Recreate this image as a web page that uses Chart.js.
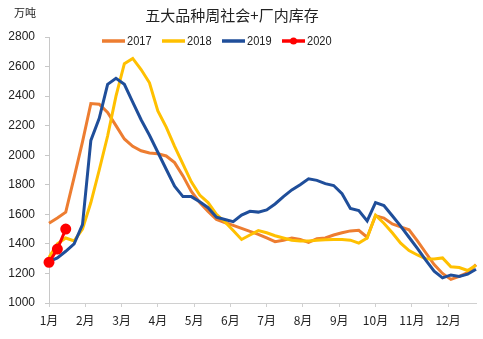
<!DOCTYPE html>
<html>
<head>
<meta charset="utf-8">
<script src="https://cdn.jsdelivr.net/npm/chart.js@4/dist/chart.umd.min.js"></script>
<style>
  html, body { margin: 0; padding: 0; background: #fff; }
  #wrap { width: 483px; height: 339px; }
</style>
</head>
<body>
<div id="wrap"><canvas id="grafico" width="483" height="339"></canvas></div>
<script>
const titulo = "五大品种周社会+厂内库存";
const unidade = "万吨";
const meses = ["1月", "2月", "3月", "4月", "5月", "6月", "7月", "8月", "9月", "10月", "11月", "12月"];
const anos = ["2017", "2018", "2019", "2020"];
const cores = ["#ED7D31", "#FFC000", "#1F4E9A", "#FF0000"];

// valores semanais (52 semanas)
const s2017 = [1540, 1575, 1615, 1850, 2090, 2350, 2345, 2290, 2200, 2110, 2060, 2030, 2015, 2010, 1995, 1950, 1860, 1755, 1680, 1620, 1565, 1545, 1525, 1505, 1485, 1465, 1440, 1415, 1425, 1440, 1430, 1410, 1435, 1440, 1460, 1475, 1488, 1492, 1445, 1590, 1575, 1535, 1515, 1495, 1420, 1340, 1260, 1200, 1160, 1180, 1205, 1260];
const s2018 = [1310, 1400, 1440, 1420, 1500, 1680, 1900, 2130, 2400, 2620, 2655, 2580, 2490, 2300, 2190, 2060, 1940, 1820, 1730, 1680, 1600, 1550, 1490, 1430, 1460, 1490, 1475, 1455, 1440, 1425, 1420, 1420, 1425, 1428, 1430, 1430, 1425, 1405, 1440, 1595, 1540, 1475, 1405, 1355, 1325, 1300, 1298, 1305, 1245, 1240, 1220, 1255];
const s2019 = [1280, 1305, 1350, 1400, 1530, 2100, 2250, 2480, 2520, 2480, 2360, 2240, 2135, 2020, 1905, 1790, 1720, 1720, 1685, 1645, 1580, 1565, 1550, 1595, 1620, 1615, 1630, 1670, 1720, 1765, 1800, 1840, 1830, 1808, 1795, 1740, 1640, 1625, 1555, 1680, 1660, 1590, 1520, 1445, 1370, 1290, 1215, 1170, 1190, 1180, 1195, 1228];
const s2020 = [1275, 1365, 1500];

const yMin = 1000, yMax = 2800, yPasso = 200;
const semanasPorMes = 52 / 12;

const series = [s2017, s2018, s2019, s2020];
const pontos = arr => arr.map((v, i) => ({ x: i, y: v }));

const fonteNum = "'Liberation Sans', Arial, sans-serif";
const fonteCJK = "'Noto Sans CJK SC', sans-serif";

// titulo, unidade e legenda desenhados à mão
const extras = {
  id: "extras",
  afterDraw(chart) {
    const ctx = chart.ctx;
    ctx.save();
    ctx.fillStyle = "#222";
    ctx.textBaseline = "middle";
    ctx.textAlign = "center";
    ctx.font = "15px " + fonteCJK;
    ctx.fillText(titulo, 232, 15);
    ctx.font = "11px " + fonteCJK;
    ctx.fillText(unidade, 25, 13);

    ctx.textAlign = "left";
    ctx.font = "13px " + fonteNum;
    anos.forEach((ano, i) => {
      const x0 = 102 + i * 60;
      const y0 = 41;
      ctx.strokeStyle = cores[i];
      ctx.lineWidth = 3.5;
      ctx.beginPath();
      ctx.moveTo(x0, y0);
      ctx.lineTo(x0 + 23, y0);
      ctx.stroke();
      if (i === 3) {
        ctx.fillStyle = cores[i];
        ctx.beginPath();
        ctx.arc(x0 + 11.5, y0, 3.5, 0, Math.PI * 2);
        ctx.fill();
      }
      // texto um pouco estreito, como no original
      ctx.fillStyle = "#222";
      ctx.save();
      ctx.translate(x0 + 25, y0 + 0.5);
      ctx.scale(0.85, 1);
      ctx.fillText(ano, 0, 0);
      ctx.restore();
    });
    ctx.restore();
  }
};

const ctx = document.getElementById("grafico").getContext("2d");
new Chart(ctx, {
  type: "line",
  data: {
    datasets: series.map((s, i) => ({
      label: anos[i],
      data: pontos(s),
      borderColor: cores[i],
      backgroundColor: cores[i],
      borderWidth: 3,
      tension: 0,
      clip: false,
      pointRadius: i === 3 ? 4 : 0,
      pointBackgroundColor: cores[i],
      pointBorderColor: cores[i],
      order: 3 - i
    }))
  },
  options: {
    responsive: false,
    animation: false,
    layout: { padding: { top: 37, right: 7, bottom: 0, left: 0 } },
    plugins: {
      legend: { display: false },
      title: { display: false },
      tooltip: { enabled: false }
    },
    scales: {
      x: {
        type: "linear",
        min: 0,
        max: 51,
        afterBuildTicks: scale => {
          scale.ticks = meses.map((m, i) => ({ value: i * semanasPorMes }));
        },
        afterFit: scale => { scale.height = 36; },
        ticks: {
          autoSkip: false,
          maxRotation: 0,
          padding: 6,
          color: "#222",
          font: { size: 12, family: fonteCJK },
          callback: (v, i) => meses[i]
        },
        grid: { display: true, drawOnChartArea: false, drawTicks: true, tickLength: 4, color: "#d0d0d0" },
        border: { display: true, color: "#d0d0d0", width: 1 }
      },
      y: {
        min: yMin,
        max: yMax,
        afterFit: scale => { scale.width = 49; },
        ticks: {
          stepSize: yPasso,
          padding: 10,
          color: "#222",
          font: { size: 12, family: fonteNum },
          callback: v => String(v)
        },
        grid: { display: true, drawOnChartArea: false, drawTicks: true, tickLength: 4, color: "#c8c8c8" },
        border: { display: true, color: "#c8c8c8", width: 1 }
      }
    }
  },
  plugins: [extras]
});
</script>
</body>
</html>
